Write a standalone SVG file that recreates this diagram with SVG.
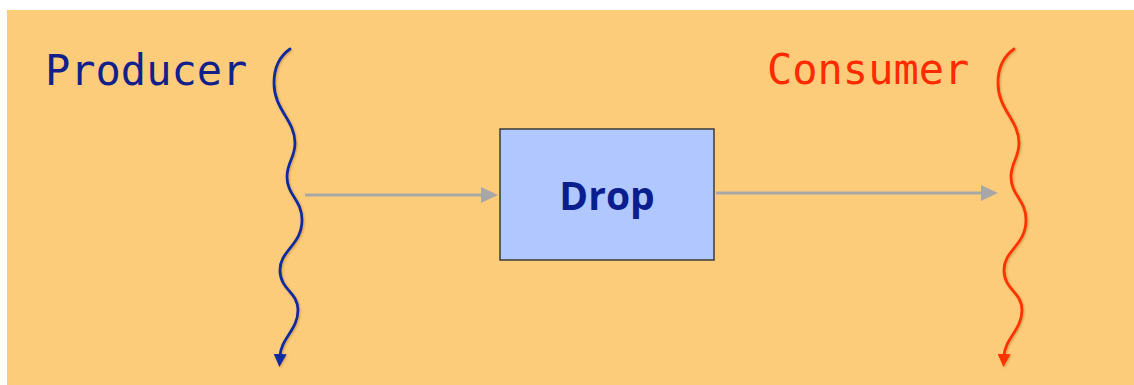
<svg xmlns="http://www.w3.org/2000/svg" width="1134" height="385" viewBox="0 0 1134 385">
  <style>
    .label { font-family: "DejaVu Sans Mono", "Liberation Mono", monospace; font-size: 42px; }
    .thread { fill: none; stroke-width: 2.8; stroke-linecap: round; filter: url(#soft); }
    .flow { fill: none; stroke: #A7A7A7; stroke-width: 3; }
  </style>
  <defs>
    <filter id="soft" x="-20%" y="-5%" width="140%" height="110%">
      <feDropShadow dx="1" dy="1" stdDeviation="1.2" flood-color="#6a4a10" flood-opacity="0.35"/>
    </filter>
    <marker id="head-gray" viewBox="0 0 17 16" refX="2" refY="8" markerWidth="17" markerHeight="16" markerUnits="userSpaceOnUse" orient="auto">
      <path d="M0,0 L17,8 L0,16 Z" fill="#A7A7A7"/>
    </marker>
    <marker id="head-blue" viewBox="0 0 13 13" refX="2" refY="6.5" markerWidth="13" markerHeight="13" markerUnits="userSpaceOnUse" orient="auto">
      <path d="M0,0 L13,6.5 L0,13 Z" fill="#0F2C9E"/>
    </marker>
    <marker id="head-red" viewBox="0 0 13 13" refX="2" refY="6.5" markerWidth="13" markerHeight="13" markerUnits="userSpaceOnUse" orient="auto">
      <path d="M0,0 L13,6.5 L0,13 Z" fill="#FF3300"/>
    </marker>
  </defs>

  <!-- backdrop -->
  <rect x="0" y="0" width="1134" height="385" fill="#FFFFFF"/>
  <rect x="7" y="10" width="1127" height="375" fill="#FDCC7A"/>

  <g id="producer">
    <text class="label" x="45" y="85" fill="#12208C">Producer</text>
    <path class="thread" stroke="#0F2C9E" marker-end="url(#head-blue)"
          d="M290,49 C280,56 274,68 274,83 C274,110 295,120 295,143 C295,158 287,162 287,177 C287,195 302,200 302,220 C302,245 280,250 280,270 C280,290 298,292 298,310 C298,330 281,338 280,356"/>
  </g>

  <g id="consumer">
    <text class="label" x="767" y="84" fill="#FF2A00">Consumer</text>
    <path class="thread" stroke="#FF3300" marker-end="url(#head-red)" transform="translate(724,0)"
          d="M290,49 C280,56 274,68 274,83 C274,110 295,120 295,143 C295,158 287,162 287,177 C287,195 302,200 302,220 C302,245 280,250 280,270 C280,290 298,292 298,310 C298,330 281,338 280,356"/>
  </g>

  <g id="drop">
    <rect x="500" y="129" width="214" height="131" fill="#B0C8FF" stroke="#3A3A3A" stroke-width="1.5"/>
    <text x="607" y="210" text-anchor="middle" font-family="'Open Sans', 'Liberation Sans', sans-serif" font-weight="700" font-size="39" fill="#0B1E8E">Drop</text>
  </g>

  <g id="connectors">
    <line class="flow" x1="305" y1="195" x2="483" y2="195" marker-end="url(#head-gray)"/>
    <line class="flow" x1="716" y1="193" x2="983" y2="193" marker-end="url(#head-gray)"/>
  </g>
</svg>
